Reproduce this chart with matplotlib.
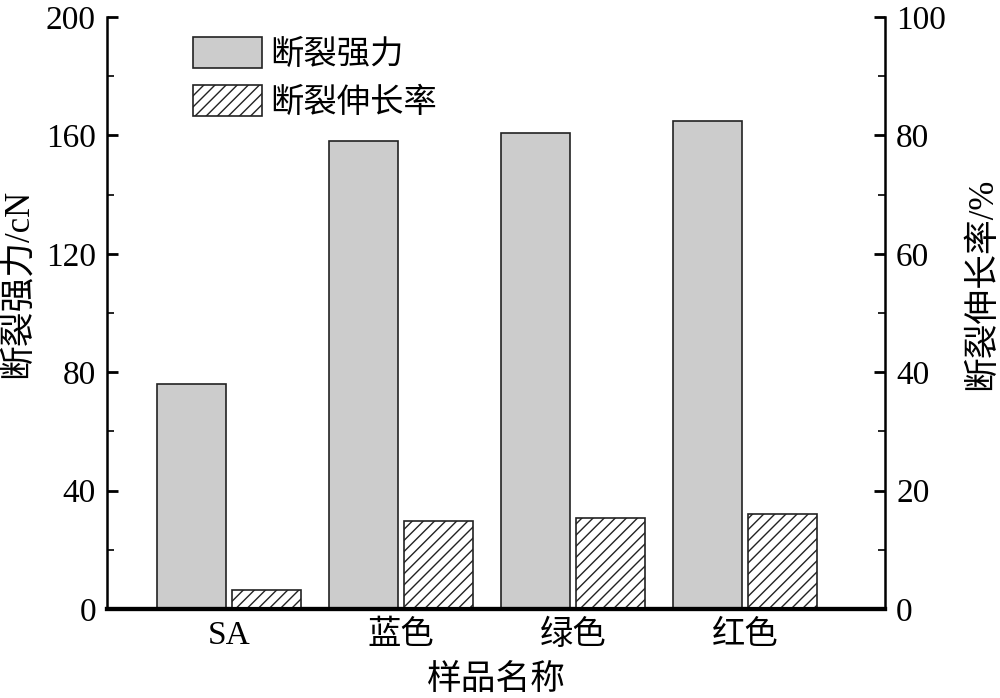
import matplotlib
matplotlib.use("Agg")
import matplotlib.pyplot as plt
import numpy as np
from matplotlib.ticker import MultipleLocator

categories = ["SA", "蓝色", "绿色", "红色"]
strength = [76, 158, 161, 165]          # 断裂强力 /cN
elongation = [3.2, 14.9, 15.4, 16.0]    # 断裂伸长率 /%

plt.rcParams['font.family'] = ['Liberation Serif', 'Noto Sans CJK SC']
plt.rcParams['hatch.linewidth'] = 1.0

fig = plt.figure(figsize=(10, 6.98), dpi=100)
ax = fig.add_axes([0.107, 0.1275, 0.778, 0.848])
ax2 = ax.twinx()

x = np.arange(len(categories))
w = 0.40
gap = 0.035
ax.bar(x - w / 2 - gap / 2, strength, width=w, color='#cccccc', edgecolor='#222222',
       linewidth=1.2, label='断裂强力', zorder=2)
ax2.bar(x + w / 2 + gap / 2, elongation, width=w, color='white', edgecolor='#222222',
        linewidth=1.2, hatch='///', label='断裂伸长率', zorder=2)

ax.set_xlim(-0.709, 3.814)
ax.set_ylim(0, 200)
ax2.set_ylim(0, 100)

ax.yaxis.set_major_locator(MultipleLocator(40))
ax.yaxis.set_minor_locator(MultipleLocator(20))
ax2.yaxis.set_major_locator(MultipleLocator(20))
ax2.yaxis.set_minor_locator(MultipleLocator(10))

ax.set_xticks(x)
ax.set_xticklabels(categories)

for a in (ax, ax2):
    a.spines['top'].set_visible(False)
    a.tick_params(axis='y', which='major', direction='in', length=8, width=2, labelsize=24, pad=8)
    a.tick_params(axis='y', which='minor', direction='in', length=5, width=1.2)
ax.tick_params(axis='x', length=0, labelsize=24, pad=8)
ax.spines['left'].set_linewidth(1.8)
ax2.spines['right'].set_linewidth(1.8)
ax.spines['bottom'].set_linewidth(3)
ax2.spines['bottom'].set_linewidth(3)
ax2.spines['left'].set_visible(False)
ax.spines['right'].set_visible(False)

ax.set_xlabel('样品名称', fontsize=25, labelpad=9)
ax.set_ylabel('断裂强力/cN', fontsize=25)
ax2.set_ylabel('断裂伸长率/%', fontsize=25)
ax.yaxis.set_label_coords(-0.093, 0.55)
ax2.yaxis.set_label_coords(1.104, 0.55)

h1, l1 = ax.get_legend_handles_labels()
h2, l2 = ax2.get_legend_handles_labels()
ax2.legend(h1 + h2, l1 + l2, loc='upper left', bbox_to_anchor=(0.081, 1.006),
           frameon=False, fontsize=24, handlelength=2.05, handleheight=1.05,
           handletextpad=0.25, labelspacing=0.42, borderaxespad=0.3)

fig.savefig('out.png', dpi=100)
